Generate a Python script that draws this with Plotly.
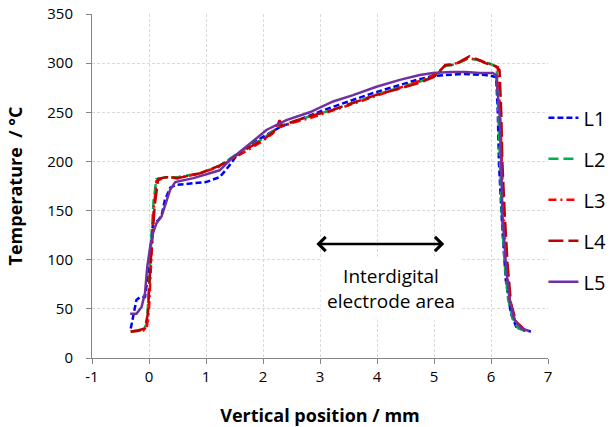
import plotly.graph_objects as go

# ---- data ----
L1_x = [-0.32, -0.22, -0.16, -0.07, -0.03, 0.02, 0.07, 0.16, 0.22, 0.28, 0.37, 0.46, 0.77, 1.0, 1.24, 1.4, 1.55, 1.7, 2.0, 2.3, 2.7, 3.1, 3.5, 3.9, 4.3, 4.7, 5.0, 5.5, 5.9, 6.05, 6.09, 6.12, 6.14, 6.2, 6.26, 6.35, 6.44, 6.58, 6.7]
L1_y = [30, 59, 62, 62, 79, 110, 137, 140, 145, 161, 173, 176, 178, 179, 184, 195, 207, 214, 225, 235, 244, 253, 261, 269, 276, 283, 287, 289, 288, 287, 286, 249, 198, 130, 79, 45, 32, 28, 27]

L2_x = [-0.32, -0.1, -0.04, 0.0, 0.04, 0.08, 0.13, 0.3, 0.5, 0.9, 1.25, 1.5, 1.75, 2.0, 2.2, 2.28, 2.35, 2.6, 2.9, 3.3, 3.7, 4.1, 4.5, 4.85, 5.05, 5.2, 5.4, 5.6, 5.8, 6.0, 6.1, 6.13, 6.16, 6.19, 6.24, 6.3, 6.38, 6.48, 6.6]
L2_y = [27, 28, 35, 70, 120, 160, 182, 184, 184, 188, 196, 206, 215, 223, 232, 238, 237, 242, 247, 254, 262, 270, 277, 283, 289, 297, 299, 305, 303, 299, 296, 250, 198, 147, 96, 60, 40, 30, 28]

L3_x = [-0.32, -0.1, -0.04, 0.0, 0.04, 0.08, 0.13, 0.3, 0.5, 0.9, 1.25, 1.5, 1.75, 2.0, 2.18, 2.26, 2.3, 2.5, 2.82, 3.2, 3.6, 4.0, 4.4, 4.8, 5.1, 5.2, 5.4, 5.6, 5.8, 6.0, 6.12, 6.16, 6.19, 6.22, 6.27, 6.33, 6.42, 6.6]
L3_y = [27, 28, 30, 50, 100, 150, 180, 184, 183, 188, 195, 204, 212, 221, 229, 240, 235, 239, 244, 251, 259, 267, 275, 283, 291, 298, 300, 305, 303, 299, 296, 250, 198, 147, 96, 58, 38, 28]

L4_x = [-0.32, -0.2, -0.07, -0.02, 0.02, 0.06, 0.1, 0.16, 0.3, 0.5, 0.9, 1.25, 1.5, 1.75, 2.0, 2.18, 2.25, 2.29, 2.33, 2.5, 2.82, 3.2, 3.6, 4.0, 4.4, 4.75, 5.0, 5.2, 5.35, 5.5, 5.62, 5.75, 5.9, 6.08, 6.15, 6.18, 6.2, 6.24, 6.29, 6.35, 6.44, 6.6]
L4_y = [27, 28, 30, 45, 90, 125, 155, 182, 184, 183, 188, 196, 205, 214, 222, 230, 236, 242, 236, 240, 246, 252, 260, 268, 274, 280, 286, 298, 298, 303, 307, 304, 300, 297, 293, 249, 198, 147, 96, 56, 37, 28]

L5_x = [-0.33, -0.22, -0.13, -0.07, -0.03, 0.02, 0.07, 0.13, 0.22, 0.28, 0.37, 0.46, 0.78, 1.24, 1.45, 1.77, 2.06, 2.41, 2.82, 3.23, 3.58, 3.99, 4.4, 4.75, 4.98, 5.3, 5.56, 5.8, 6.03, 6.09, 6.15, 6.18, 6.2, 6.26, 6.32, 6.41, 6.53, 6.67]
L5_y = [45, 45, 52, 66, 93, 113, 127, 137, 144, 154, 171, 179, 183, 191, 203, 218, 232, 242, 250, 261, 267.5, 276, 283, 288, 290, 291, 291, 290, 290, 288, 249, 198, 147, 96, 62, 39, 30, 27.5]

series_names = ["L1", "L2", "L3", "L4", "L5"]
x_ticks = [-1, 0, 1, 2, 3, 4, 5, 6, 7]
x_tick_text = ["-1", "0", "1", "2", "3", "4", "5", "6", "7"]
y_ticks = [0, 50, 100, 150, 200, 250, 300, 350]

arrow_x = [2.91, 5.18]
arrow_y = 116
label_x = 4.24
label_y = 71
label_text = "Interdigital<br>electrode area"

# ---- styling ----
styles = [
    dict(color="#0000FF", dash="6px,3px"),
    dict(color="#00B050", dash="10px,5px"),
    dict(color="#FF0000", dash="8px,4px,2px,4px"),
    dict(color="#C00000", dash="15px,5px"),
    dict(color="#7030A0", dash="solid"),
]
FONT = "Open Sans"

fig = go.Figure()
data = [(L1_x, L1_y), (L2_x, L2_y), (L3_x, L3_y), (L4_x, L4_y), (L5_x, L5_y)]
for name, (xs, ys), st in zip(series_names, data, styles):
    fig.add_trace(go.Scatter(
        x=xs, y=ys, name=name, mode="lines", legendgroup=name,
        line=dict(color=st["color"], dash=st["dash"], width=2.5),
    ))

fig.add_annotation(
    x=arrow_x[1], y=arrow_y, ax=arrow_x[0], ay=arrow_y,
    xref="x", yref="y", axref="x", ayref="y",
    text="", showarrow=True, arrowhead=4, startarrowhead=4,
    arrowside="end+start", arrowsize=1.1, startarrowsize=1.1,
    arrowwidth=2.5, arrowcolor="black",
)
fig.add_annotation(
    x=label_x, y=label_y, xref="x", yref="y", text=label_text,
    showarrow=False, bgcolor="white", borderpad=6,
    font=dict(family=FONT, size=19, color="black"),
)

axis_common = dict(
    showline=True, linecolor="#868686", linewidth=1,
    ticks="outside", ticklen=5, tickcolor="#868686",
    showgrid=True, gridcolor="#d9d9d9", griddash="3px,2px", gridwidth=1,
    zeroline=False, automargin=False,
    tickfont=dict(family=FONT, size=15, color="black"),
)

fig.update_xaxes(
    range=[-1, 7], tickvals=x_ticks, ticktext=x_tick_text, **axis_common,
    title=dict(text="Vertical position / mm", standoff=25,
               font=dict(family=FONT, size=18, color="black", weight="bold")),
)
fig.update_yaxes(
    range=[0, 350], tickvals=y_ticks, ticklabelstandoff=10, **axis_common,
    title=dict(text="Temperature&nbsp; / °C", standoff=19,
               font=dict(family=FONT, size=18, color="black", weight="bold")),
)

fig.update_layout(
    width=610, height=427,
    margin=dict(l=92, r=62, t=14, b=69, autoexpand=False),
    paper_bgcolor="white", plot_bgcolor="white",
    font=dict(family=FONT, color="black"),
    showlegend=True,
    legend=dict(
        x=0.99, y=0.46, xanchor="left", yanchor="middle",
        font=dict(family=FONT, size=20, color="black"),
        traceorder="grouped", tracegroupgap=12,
        bgcolor="rgba(0,0,0,0)", itemwidth=30,
    ),
)

fig.write_html("out.html", config={"displayModeBar": False},
               post_script="document.body.style.margin='0';")
